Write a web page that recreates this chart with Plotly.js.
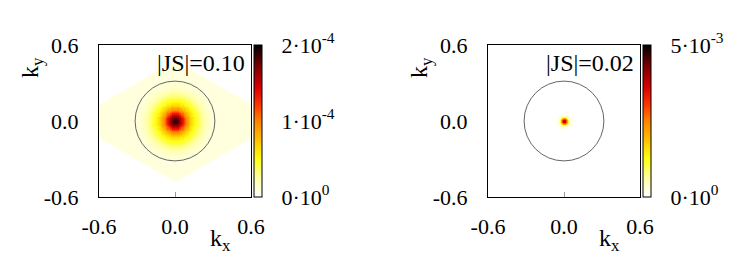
<!DOCTYPE html>
<html>
<head>
<meta charset="utf-8">
<script src="https://cdn.plot.ly/plotly-3.0.1.min.js"></script>
<style>html,body{margin:0;padding:0;background:#fff;}#chart{width:747px;height:276px;}</style>
</head>
<body>
<div id="chart"></div>
<script>
// ---------- data ----------
// radial profile of the left map (units 1e-4), sampled every 0.01 in |k|
const leftRadiusStep = 0.01;
const leftProfile = [1.90, 1.86, 1.78, 1.68, 1.57, 1.45, 1.32, 1.19, 1.07, 0.96,
                     0.86, 0.78, 0.70, 0.64, 0.58, 0.53, 0.48, 0.44, 0.40, 0.36,
                     0.32, 0.29, 0.26, 0.23, 0.20, 0.18, 0.16, 0.14, 0.13, 0.12,
                     0.11, 0.10];
const leftTail = 0.09;           // value in the pale region (units 1e-4)
const leftScale = 1e-4;
// pale region outline (left map)
const zoneX = [0, -0.83, 0, 0.83];
const zoneY = [0.48, 0, -0.48, 0];

// radial profile of the right map (units 1e-3)
const rightRadiusStep = 0.01;
const rightProfile = [4.6, 3.6, 2.2, 1.1, 0.5, 0.22, 0.09, 0.03, 0.01];
const rightTail = 0;
const rightScale = 1e-3;

const circleRadius = 0.315;
const labels = ["|JS|=0.10", "|JS|=0.02"];
const axisTicks = [-0.6, 0.0, 0.6];
const axisTickText = ["-0.6", "0.0", "0.6"];
const leftCbVals = [0, 1e-4, 2e-4];
const leftCbText = ["0·10<sup>0</sup>", "1·10<sup>-4</sup>", "2·10<sup>-4</sup>"];
const rightCbVals = [0, 5e-3];
const rightCbText = ["0·10<sup>0</sup>", "5·10<sup>-3</sup>"];
const leftZmax = 2e-4, rightZmax = 5e-3;

// ---------- grid ----------
const gridStep = 0.01, gridN = 121;
const grid = [];
for (let i = 0; i < gridN; i++) grid.push(+(-0.6 + i * gridStep).toFixed(3));

function inPoly(px, py, vx, vy) {
  let inside = false;
  for (let i = 0, j = vx.length - 1; i < vx.length; j = i++) {
    if (((vy[i] > py) !== (vy[j] > py)) &&
        (px < (vx[j] - vx[i]) * (py - vy[i]) / (vy[j] - vy[i]) + vx[i])) inside = !inside;
  }
  return inside;
}
function buildZ(profile, step, tail, scale, maskX, maskY) {
  const z = [];
  for (const y of grid) {
    const row = [];
    for (const x of grid) {
      if (maskX && !inPoly(x, y, maskX, maskY)) { row.push(0); continue; }
      const idx = Math.round(Math.sqrt(x * x + y * y) / step);
      row.push((idx < profile.length ? profile[idx] : tail) * scale);
    }
    z.push(row);
  }
  return z;
}
const zLeft = buildZ(leftProfile, leftRadiusStep, leftTail, leftScale, zoneX, zoneY);
const zRight = buildZ(rightProfile, rightRadiusStep, rightTail, rightScale, null, null);

const cscale = [
  [0.00, '#ffffff'], [0.12, '#ffffa8'], [0.25, '#ffff10'], [0.40, '#ffb400'],
  [0.50, '#ff8400'], [0.60, '#ff3a00'], [0.72, '#dc0000'], [0.86, '#7a0000'],
  [1.00, '#000000']
];

const W = 747, H = 276;
const FONT = '"Liberation Serif", "DejaVu Serif", serif';
const tickFont = {family: FONT, size: 22, color: '#000'};

function cb(xPx, vals, text) {
  return {
    x: xPx / W, xanchor: 'left', xpad: 0, ypad: 0,
    y: (H - 121) / H, yanchor: 'middle',
    len: 152, lenmode: 'pixels', thickness: 8,
    outlinewidth: 1, outlinecolor: '#000',
    tickmode: 'array', tickvals: vals, ticktext: text,
    ticks: 'outside', ticklen: 15, tickcolor: 'rgba(0,0,0,0)',
    tickfont: tickFont
  };
}

const traces = [
  {type: 'heatmap', x: grid, y: grid, z: zLeft, xaxis: 'x', yaxis: 'y',
   colorscale: cscale, zmin: 0, zmax: leftZmax, zsmooth: 'best',
   colorbar: cb(254, leftCbVals, leftCbText), hoverinfo: 'skip'},
  {type: 'heatmap', x: grid, y: grid, z: zRight, xaxis: 'x2', yaxis: 'y2',
   colorscale: cscale, zmin: 0, zmax: rightZmax, zsmooth: 'best',
   colorbar: cb(643, rightCbVals, rightCbText), hoverinfo: 'skip'}
];

function xax(d) {
  return {domain: d, range: [-0.6, 0.6], tickmode: 'array', tickvals: axisTicks,
    ticktext: axisTickText, ticks: 'inside', ticklen: 5, tickcolor: '#999',
    ticklabelstandoff: 10,
    showline: true, mirror: true, linecolor: '#000', linewidth: 1,
    showgrid: false, zeroline: false, tickfont: tickFont, fixedrange: true};
}
function yax(anchor) {
  return {domain: [79 / H, 231 / H], range: [-0.6, 0.6], anchor: anchor,
    tickmode: 'array', tickvals: axisTicks, ticktext: axisTickText, ticks: '',
    ticklabelstandoff: 15,
    showline: true, mirror: true, linecolor: '#000', linewidth: 1,
    showgrid: false, zeroline: false, tickfont: tickFont, fixedrange: true};
}

function titleAnn(text, xr, yr, x, y, extra) {
  return Object.assign({text, xref: xr, yref: yr, x, y, showarrow: false,
    xanchor: 'center', yanchor: 'middle',
    font: {family: FONT, size: 24, color: '#000'}}, extra || {});
}

const layout = {
  width: W, height: H, margin: {l: 0, r: 0, t: 0, b: 0, autoexpand: false},
  paper_bgcolor: '#fff', plot_bgcolor: '#fff', showlegend: false,
  font: {family: FONT},
  xaxis: Object.assign(xax([99 / W, 251 / W]), {anchor: 'y'}),
  yaxis: yax('x'),
  xaxis2: Object.assign(xax([488 / W, 640 / W]), {anchor: 'y2'}),
  yaxis2: yax('x2'),
  shapes: [
    {type: 'circle', xref: 'x', yref: 'y', x0: -circleRadius, x1: circleRadius,
     y0: -circleRadius, y1: circleRadius, line: {color: '#555', width: 0.9}},
    {type: 'circle', xref: 'x2', yref: 'y2', x0: -circleRadius, x1: circleRadius,
     y0: -circleRadius, y1: circleRadius, line: {color: '#555', width: 0.9}}
  ],
  annotations: [
    titleAnn('k<sub>y</sub>', 'x domain', 'y domain', -0.44, 0.85, {textangle: -90}),
    titleAnn('k<sub>y</sub>', 'x2 domain', 'y2 domain', -0.44, 0.85, {textangle: -90}),
    titleAnn('k<sub>x</sub>', 'x domain', 'y domain', 0.80, -0.28),
    titleAnn('k<sub>x</sub>', 'x2 domain', 'y2 domain', 0.80, -0.28),
    {text: labels[0], xref: 'x', yref: 'y', x: 0.565, y: 0.46, xanchor: 'right',
     yanchor: 'middle', showarrow: false, font: {family: FONT, size: 24, color: '#000'}},
    {text: labels[1], xref: 'x2', yref: 'y2', x: 0.565, y: 0.46, xanchor: 'right',
     yanchor: 'middle', showarrow: false, font: {family: FONT, size: 24, color: '#000'}}
  ]
};

Plotly.newPlot('chart', traces, layout, {staticPlot: true, displayModeBar: false});
</script>
</body>
</html>
